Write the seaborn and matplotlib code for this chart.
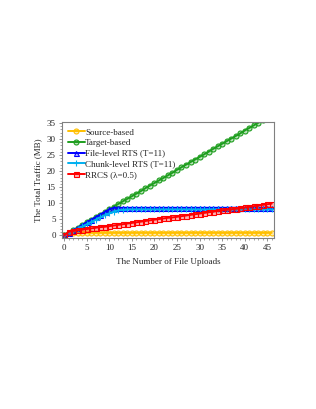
import numpy as np
import pandas as pd
import matplotlib
matplotlib.use('Agg')
import matplotlib.pyplot as plt
import seaborn as sns
from matplotlib.ticker import MultipleLocator

# data
uploads = list(range(47))

source_based = [0.0] + [0.8] * 46

target_based = [0.0, 0.8, 1.6, 2.4, 3.3, 4.1, 4.9, 5.7, 6.5, 7.3, 8.1, 9.0,
                9.8, 10.6, 11.4, 12.2, 13.0, 13.8, 14.7, 15.5, 16.3, 17.1,
                17.9, 18.7, 19.5, 20.4, 21.2, 22.0, 22.8, 23.6, 24.4, 25.2,
                26.0, 26.9, 27.7, 28.5, 29.3, 30.1, 30.9, 31.7, 32.6, 33.4,
                34.2, 35.0, 35.8, 36.6, 37.4]

file_rts = [0.0, 0.8, 1.6, 2.4, 3.3, 4.1, 4.9, 5.7, 6.5, 7.3, 8.1, 8.6] + [8.6] * 35

chunk_rts = [0.0, 0.7, 1.4, 2.1, 2.8, 3.5, 4.2, 4.9, 5.6, 6.3, 6.9, 7.4, 7.8,
             8.0, 8.1] + [8.1] * 32

rrcs = [0.0, 1.2, 1.4, 1.6, 1.8, 2.0, 2.2, 2.4, 2.6, 2.7, 2.9, 3.1, 3.3, 3.5,
        3.7, 3.9, 4.1, 4.3, 4.5, 4.7, 4.9, 5.1, 5.3, 5.5, 5.6, 5.8, 6.0, 6.2,
        6.4, 6.6, 6.8, 7.0, 7.2, 7.4, 7.6, 7.8, 8.0, 8.1, 8.3, 8.5, 8.7, 8.9,
        9.1, 9.3, 9.5, 9.7, 9.9]

series = [
    ('Source-based', source_based, '#FFC000', 'o'),
    ('Target-based', target_based, '#1E9E1E', 'o'),
    ('File-level RTS (T=11)', file_rts, '#0000FF', '^'),
    ('Chunk-level RTS (T=11)', chunk_rts, '#00B0F0', '+'),
    ('RRCS (\u03bb=0.5)', rrcs, '#FF0000', 's'),
]

sns.set_style('ticks')
plt.rcParams['font.family'] = ['Liberation Serif', 'DejaVu Serif']
plt.rcParams['font.size'] = 6.5

fig = plt.figure(figsize=(3.16, 4.09), dpi=100)
ax = fig.add_axes([0.196, 0.418, 0.671, 0.284])

for name, vals, color, mk in series:
    df = pd.DataFrame({'x': uploads, 'y': vals})
    sns.lineplot(data=df, x='x', y='y', ax=ax, color=color, linewidth=1.4,
                 marker=mk, markersize=3.6 if mk != '+' else 5,
                 markerfacecolor=matplotlib.colors.to_rgba(color, 0.3),
                 markeredgecolor=color, markeredgewidth=0.8,
                 label=name, clip_on=True)

ax.set_xlim(-0.5, 46.5)
ax.set_ylim(-0.8, 35.3)
ax.xaxis.set_major_locator(MultipleLocator(5))
ax.xaxis.set_minor_locator(MultipleLocator(1))
ax.yaxis.set_major_locator(MultipleLocator(5))
ax.yaxis.set_minor_locator(MultipleLocator(1))
ax.tick_params(which='major', length=2, width=0.6, color='#808080', pad=2.5,
               labelsize=6.5)
ax.tick_params(which='minor', length=1.5, width=0.5, color='#808080')
for sp in ax.spines.values():
    sp.set_color('#808080')
    sp.set_linewidth(0.8)

ax.set_xlabel('The Number of File Uploads', fontsize=6.5, labelpad=4)
ax.set_ylabel('The Total Traffic (MB)', fontsize=6.5, labelpad=3)

ax.legend(loc='upper left', frameon=False, fontsize=6.5, handlelength=1.8,
          handletextpad=0.05, labelspacing=0.25, borderaxespad=0.2,
          borderpad=0.5)

fig.savefig('out.png', dpi=100)
